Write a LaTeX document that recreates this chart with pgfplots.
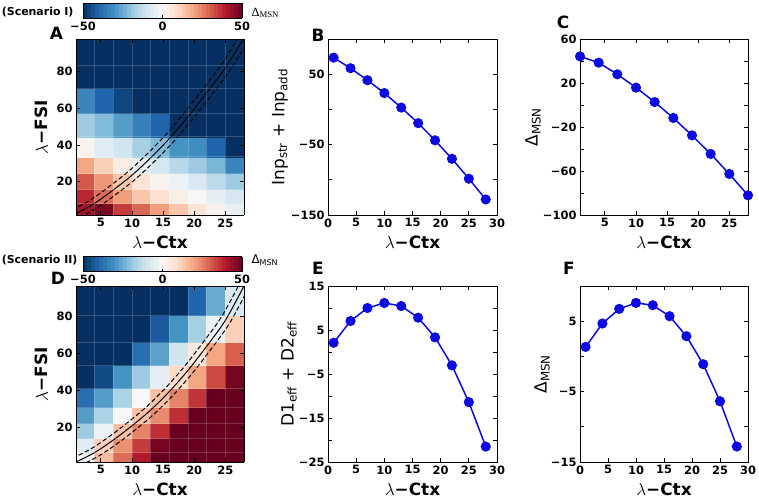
\documentclass[border=0pt]{standalone}
\usepackage{fontspec}
\setmainfont{DejaVu Sans}
\newfontfamily\seriffont{Liberation Serif}
\usepackage{pgfplots}
\pgfplotsset{compat=1.18}
\usetikzlibrary{calc}
\definecolor{lineblue}{RGB}{10,10,225}
\pgfplotsset{
  colormap={RdBuR}{rgb255=(5,48,97) rgb255=(33,102,172) rgb255=(67,147,195) rgb255=(146,197,222) rgb255=(209,229,240) rgb255=(247,247,247) rgb255=(253,219,199) rgb255=(244,165,130) rgb255=(214,96,77) rgb255=(178,24,43) rgb255=(103,0,31)},
  tickfont/.style={font=\fontsize{11.5}{13}\selectfont\bfseries},
  base/.style={scale only axis, anchor=south west, tick align=inside,
    major tick length=4bp, minor tick length=4bp,
    axis line style={line width=0.8bp},
    every tick/.append style={line width=0.8bp, black},
    ticklabel style={tickfont},
    /pgf/number format/assume math mode=true},
  lineplot/.style={base, width=169bp, height=176bp},
  heat/.style={base, width=168bp, height=176bp, view={0}{90}, zmin=-1, zmax=1, ztick=\empty,
    xmin=1, xmax=28, xtick={5,10,15,20,25}, ytick={20,40,60,80},
    minor xtick={4,7,10,13,16,19,22,25}, xminorgrids=true, yminorgrids=true,
    minor tick length=0pt, minor grid style={white, opacity=0.18, line width=0.5bp},
    colormap name=RdBuR, point meta min=-50, point meta max=50, axis on top,
    colorbar horizontal, colorbar sampled},
  cbar/.style={colorbar style={scale only axis, width=159bp, height=15bp, samples=41,
    anchor=south west, xtick={-50,0,50}, xticklabels={−50,0,50}, tick pos=left,
    tick align=inside, major tick length=3bp,
    ticklabel style={tickfont}, axis line style={line width=0.8bp},
    every tick/.append style={line width=0.8bp, black}}},
  dataline/.style={lineblue, line width=1.5bp, mark=*, mark size=4.3bp, mark options={fill=lineblue, draw=lineblue}},
  solidc/.style={black, line width=1bp, smooth},
  dashc/.style={black, line width=1bp, smooth, dash pattern=on 4.5bp off 2.5bp},
}
\begin{document}
\begin{tikzpicture}
\path[use as bounding box] (0,0) rectangle (759bp,-498bp);

% ---------------- A ----------------
\begin{axis}[heat, at={(76bp,-215bp)}, ymin=1.8, ymax=97.8,
  minor ytick={8.2,16.0,24.5,33.6,44.5,57.3,70.9,83.5},
  cbar, colorbar style={at={($(parent axis.north west)+(7bp,29.5bp)$)}}]
\addplot3[surf, shader=flat corner, mesh/cols=10, point meta=\thisrow{c}] table {
x y z c
1 1.8 0 42
4 1.8 0 47
7 1.8 0 35
10 1.8 0 29
13 1.8 0 21
16 1.8 0 14
19 1.8 0 7
22 1.8 0 2
25 1.8 0 -4
28 1.8 0 0
1 8.2 0 38
4 8.2 0 28
7 8.2 0 21
10 8.2 0 14
13 8.2 0 8
16 8.2 0 3
19 8.2 0 0
22 8.2 0 -5
25 8.2 0 -9
28 8.2 0 0
1 16.0 0 31
4 16.0 0 22
7 16.0 0 14
10 16.0 0 7
13 16.0 0 2
16 16.0 0 -3
19 16.0 0 -8
22 16.0 0 -13
25 16.0 0 -18
28 16.0 0 0
1 24.5 0 20
4 24.5 0 12
7 24.5 0 4
10 24.5 0 -4
13 24.5 0 -9
16 24.5 0 -14
19 24.5 0 -18
22 24.5 0 -23
25 24.5 0 -33
28 24.5 0 0
1 33.6 0 2
4 33.6 0 -6
7 33.6 0 -10
10 33.6 0 -17
13 33.6 0 -22
16 33.6 0 -30
19 33.6 0 -31
22 33.6 0 -40
25 33.6 0 -50
28 33.6 0 0
1 44.5 0 -18
4 44.5 0 -22
7 44.5 0 -28
10 44.5 0 -34
13 44.5 0 -40
16 44.5 0 -55
19 44.5 0 -60
22 44.5 0 -60
25 44.5 0 -60
28 44.5 0 0
1 57.3 0 -33
4 57.3 0 -40
7 57.3 0 -46
10 57.3 0 -60
13 57.3 0 -60
16 57.3 0 -60
19 57.3 0 -60
22 57.3 0 -60
25 57.3 0 -60
28 57.3 0 0
1 70.9 0 -60
4 70.9 0 -60
7 70.9 0 -60
10 70.9 0 -60
13 70.9 0 -60
16 70.9 0 -60
19 70.9 0 -60
22 70.9 0 -60
25 70.9 0 -60
28 70.9 0 0
1 83.5 0 -60
4 83.5 0 -60
7 83.5 0 -60
10 83.5 0 -60
13 83.5 0 -60
16 83.5 0 -60
19 83.5 0 -60
22 83.5 0 -60
25 83.5 0 -60
28 83.5 0 0
1 97.8 0 0
4 97.8 0 0
7 97.8 0 0
10 97.8 0 0
13 97.8 0 0
16 97.8 0 0
19 97.8 0 0
22 97.8 0 0
25 97.8 0 0
28 97.8 0 0
};
\addplot3[solidc] coordinates {(1,2.5,0) (4,8.2,0) (7,15.5,0) (10,23.5,0) (13,33,0) (16,43.5,0) (19,55.5,0) (22,68.5,0) (25,82,0) (28,98.5,0)};
\addplot3[dashc] coordinates {(0.4,4.5,0) (3.4,10.2,0) (6.4,17.5,0) (9.4,25.5,0) (12.4,35,0) (15.4,45.5,0) (18.4,57.5,0) (21.4,70.5,0) (24.4,84,0) (27.4,100.5,0)};
\addplot3[dashc] coordinates {(1.6,0.5,0) (4.6,6.2,0) (7.6,13.5,0) (10.6,21.5,0) (13.6,31,0) (16.6,41.5,0) (19.6,53.5,0) (22.6,66.5,0) (25.6,80,0) (28.6,96.5,0)};
\end{axis}

% ---------------- D ----------------
\begin{axis}[heat, at={(76bp,-462bp)}, ymin=1.4, ymax=96.6,
  minor ytick={6.8,14.1,22.2,31.2,41.1,53.7,66.3,80.7},
  cbar, colorbar style={at={($(parent axis.north west)+(7bp,23bp)$)}}]
\addplot3[surf, shader=flat corner, mesh/cols=10, point meta=\thisrow{c}] table {
x y z c
1 1.4 0 -1
4 1.4 0 16
7 1.4 0 28
10 1.4 0 40
13 1.4 0 55
16 1.4 0 60
19 1.4 0 60
22 1.4 0 60
25 1.4 0 60
28 1.4 0 0
1 6.8 0 -6
4 6.8 0 12
7 6.8 0 23
10 6.8 0 35
13 6.8 0 48
16 6.8 0 60
19 6.8 0 60
22 6.8 0 60
25 6.8 0 60
28 6.8 0 0
1 14.1 0 -18
4 14.1 0 -3
7 14.1 0 15
10 14.1 0 25
13 14.1 0 37
16 14.1 0 52
19 14.1 0 60
22 14.1 0 60
25 14.1 0 60
28 14.1 0 0
1 22.2 0 -28
4 22.2 0 -16
7 22.2 0 0
10 22.2 0 15
13 22.2 0 24
16 22.2 0 37
19 22.2 0 55
22 22.2 0 60
25 22.2 0 60
28 22.2 0 0
1 31.2 0 -38
4 31.2 0 -28
7 31.2 0 -16
10 31.2 0 0
13 31.2 0 15
16 31.2 0 25
19 31.2 0 36
22 31.2 0 55
25 31.2 0 60
28 31.2 0 0
1 41.1 0 -55
4 41.1 0 -45
7 41.1 0 -30
10 41.1 0 -18
13 41.1 0 -5
16 41.1 0 10
19 41.1 0 20
22 41.1 0 33
25 41.1 0 48
28 41.1 0 0
1 53.7 0 -60
4 53.7 0 -60
7 53.7 0 -60
10 53.7 0 -38
13 53.7 0 -27
16 53.7 0 -10
19 53.7 0 5
22 53.7 0 20
25 53.7 0 30
28 53.7 0 0
1 66.3 0 -60
4 66.3 0 -60
7 66.3 0 -60
10 66.3 0 -60
13 66.3 0 -42
16 66.3 0 -30
19 66.3 0 -17
22 66.3 0 -3
25 66.3 0 12
28 66.3 0 0
1 80.7 0 -60
4 80.7 0 -60
7 80.7 0 -60
10 80.7 0 -60
13 80.7 0 -60
16 80.7 0 -60
19 80.7 0 -40
22 80.7 0 -25
25 80.7 0 -8
28 80.7 0 0
1 96.6 0 0
4 96.6 0 0
7 96.6 0 0
10 96.6 0 0
13 96.6 0 0
16 96.6 0 0
19 96.6 0 0
22 96.6 0 0
25 96.6 0 0
28 96.6 0 0
};
\addplot3[solidc] coordinates {(1,1.4,0) (4,6.5,0) (7,13.3,0) (10,21,0) (13,29.5,0) (16,39.5,0) (19,51,0) (22,64,0) (25,78,0) (28,96.6,0)};
\addplot3[dashc] coordinates {(0.4,3.4,0) (3.4,8.5,0) (6.4,15.3,0) (9.4,23,0) (12.4,31.5,0) (15.4,41.5,0) (18.4,53,0) (21.4,66,0) (24.4,80,0) (27.4,98.6,0)};
\addplot3[dashc] coordinates {(1.6,-0.6,0) (4.6,4.5,0) (7.6,11.3,0) (10.6,19,0) (13.6,27.5,0) (16.6,37.5,0) (19.6,49,0) (22.6,62,0) (25.6,76,0) (28.6,94.6,0)};
\end{axis}

% ---------------- B ----------------
\begin{axis}[lineplot, at={(328bp,-215bp)}, xmin=0, xmax=30, xtick={0,5,...,30},
  ymin=-150, ymax=100, ytick={-150,-50,50}, yticklabels={−150,−50,50}, minor ytick={-100,0,100}]
\addplot[dataline] coordinates {(1,73.5) (4,58.5) (7,41.5) (10,23.2) (13,2.6) (16,-19.5) (19,-43.9) (22,-70.2) (25,-98.4) (28,-127.9)};
\end{axis}

% ---------------- C ----------------
\begin{axis}[lineplot, at={(580bp,-215bp)}, width=168bp, xmin=1, xmax=28, xtick={5,10,...,25},
  ymin=-100, ymax=60, ytick={-100,-60,-20,20,60}, yticklabels={−100,−60,−20,20,60}, minor ytick={-80,-40,0,40}]
\addplot[dataline] coordinates {(1,44.2) (4,38.5) (7,27.9) (10,15.8) (13,2.7) (16,-11.8) (19,-27.6) (22,-44.5) (25,-62.7) (28,-82.1)};
\end{axis}

% ---------------- E ----------------
\begin{axis}[lineplot, at={(328bp,-462bp)}, xmin=0, xmax=30, xtick={0,5,...,30},
  ymin=-25, ymax=15, ytick={-25,-15,-5,5,15}, yticklabels={−25,−15,−5,5,15}, minor ytick={-20,-10,0,10}]
\addplot[dataline] coordinates {(1,2.1) (4,7.05) (7,10.0) (10,11.14) (13,10.45) (16,7.8) (19,3.33) (22,-3.03) (25,-11.4) (28,-21.5)};
\end{axis}

% ---------------- F ----------------
\begin{axis}[lineplot, at={(580bp,-462bp)}, width=168bp, xmin=0, xmax=30, xtick={0,5,...,30},
  ymin=-15, ymax=10, ytick={-15,-5,5}, yticklabels={−15,−5,5}, minor ytick={-10,0,10}]
\addplot[dataline] coordinates {(1,1.35) (4,4.67) (7,6.75) (10,7.6) (13,7.27) (16,5.71) (19,2.87) (22,-1.11) (25,-6.37) (28,-12.8)};
\end{axis}

% ---------------- texts ----------------
\tikzset{lab/.style={font=\fontsize{17}{20}\selectfont}, plab/.style={font=\fontsize{17}{20}\selectfont\bfseries}}
\node[plab] at (56.5bp,-33bp) {A};
\node[plab] at (318bp,-35bp) {B};
\node[plab] at (563bp,-22bp) {C};
\node[plab] at (58bp,-278bp) {D};
\node[plab] at (318bp,-268bp) {E};
\node[plab] at (569bp,-268bp) {F};

\node[lab, anchor=base] at (160bp,-248bp) {$\lambda$\textbf{−Ctx}};
\node[lab, anchor=base] at (412.5bp,-248bp) {$\lambda$\textbf{−Ctx}};
\node[lab, anchor=base] at (664bp,-248bp) {$\lambda$\textbf{−Ctx}};
\node[lab, anchor=base] at (160bp,-495bp) {$\lambda$\textbf{−Ctx}};
\node[lab, anchor=base] at (412.5bp,-495bp) {$\lambda$\textbf{−Ctx}};
\node[lab, anchor=base] at (664bp,-495bp) {$\lambda$\textbf{−Ctx}};

\node[lab, rotate=90] at (41.7bp,-127bp) {$\lambda$\textbf{−FSI}};
\node[lab, rotate=90] at (41.7bp,-374bp) {$\lambda$\textbf{−FSI}};
\node[lab, rotate=90] at (280bp,-127bp) {Inp\textsubscript{str} + Inp\textsubscript{add}};
\node[lab, rotate=90] at (533bp,-127bp) {Δ\textsubscript{MSN}};
\node[lab, rotate=90] at (289bp,-374bp) {D1\textsubscript{eff} + D2\textsubscript{eff}};
\node[lab, rotate=90] at (542bp,-374bp) {Δ\textsubscript{MSN}};

\node[anchor=east, font=\fontsize{11}{13}\selectfont\bfseries] at (77bp,-12.5bp) {(Scenario I)};
\node[anchor=east, font=\fontsize{11}{13}\selectfont\bfseries] at (81bp,-260bp) {(Scenario II)};
\node[anchor=west, font=\fontsize{12.5}{14}\selectfont\seriffont] at (248bp,-13bp) {Δ\textsubscript{MSN}};
\node[anchor=west, font=\fontsize{12}{14}\selectfont] at (248bp,-260bp) {Δ\textsubscript{MSN}};
\end{tikzpicture}
\end{document}
